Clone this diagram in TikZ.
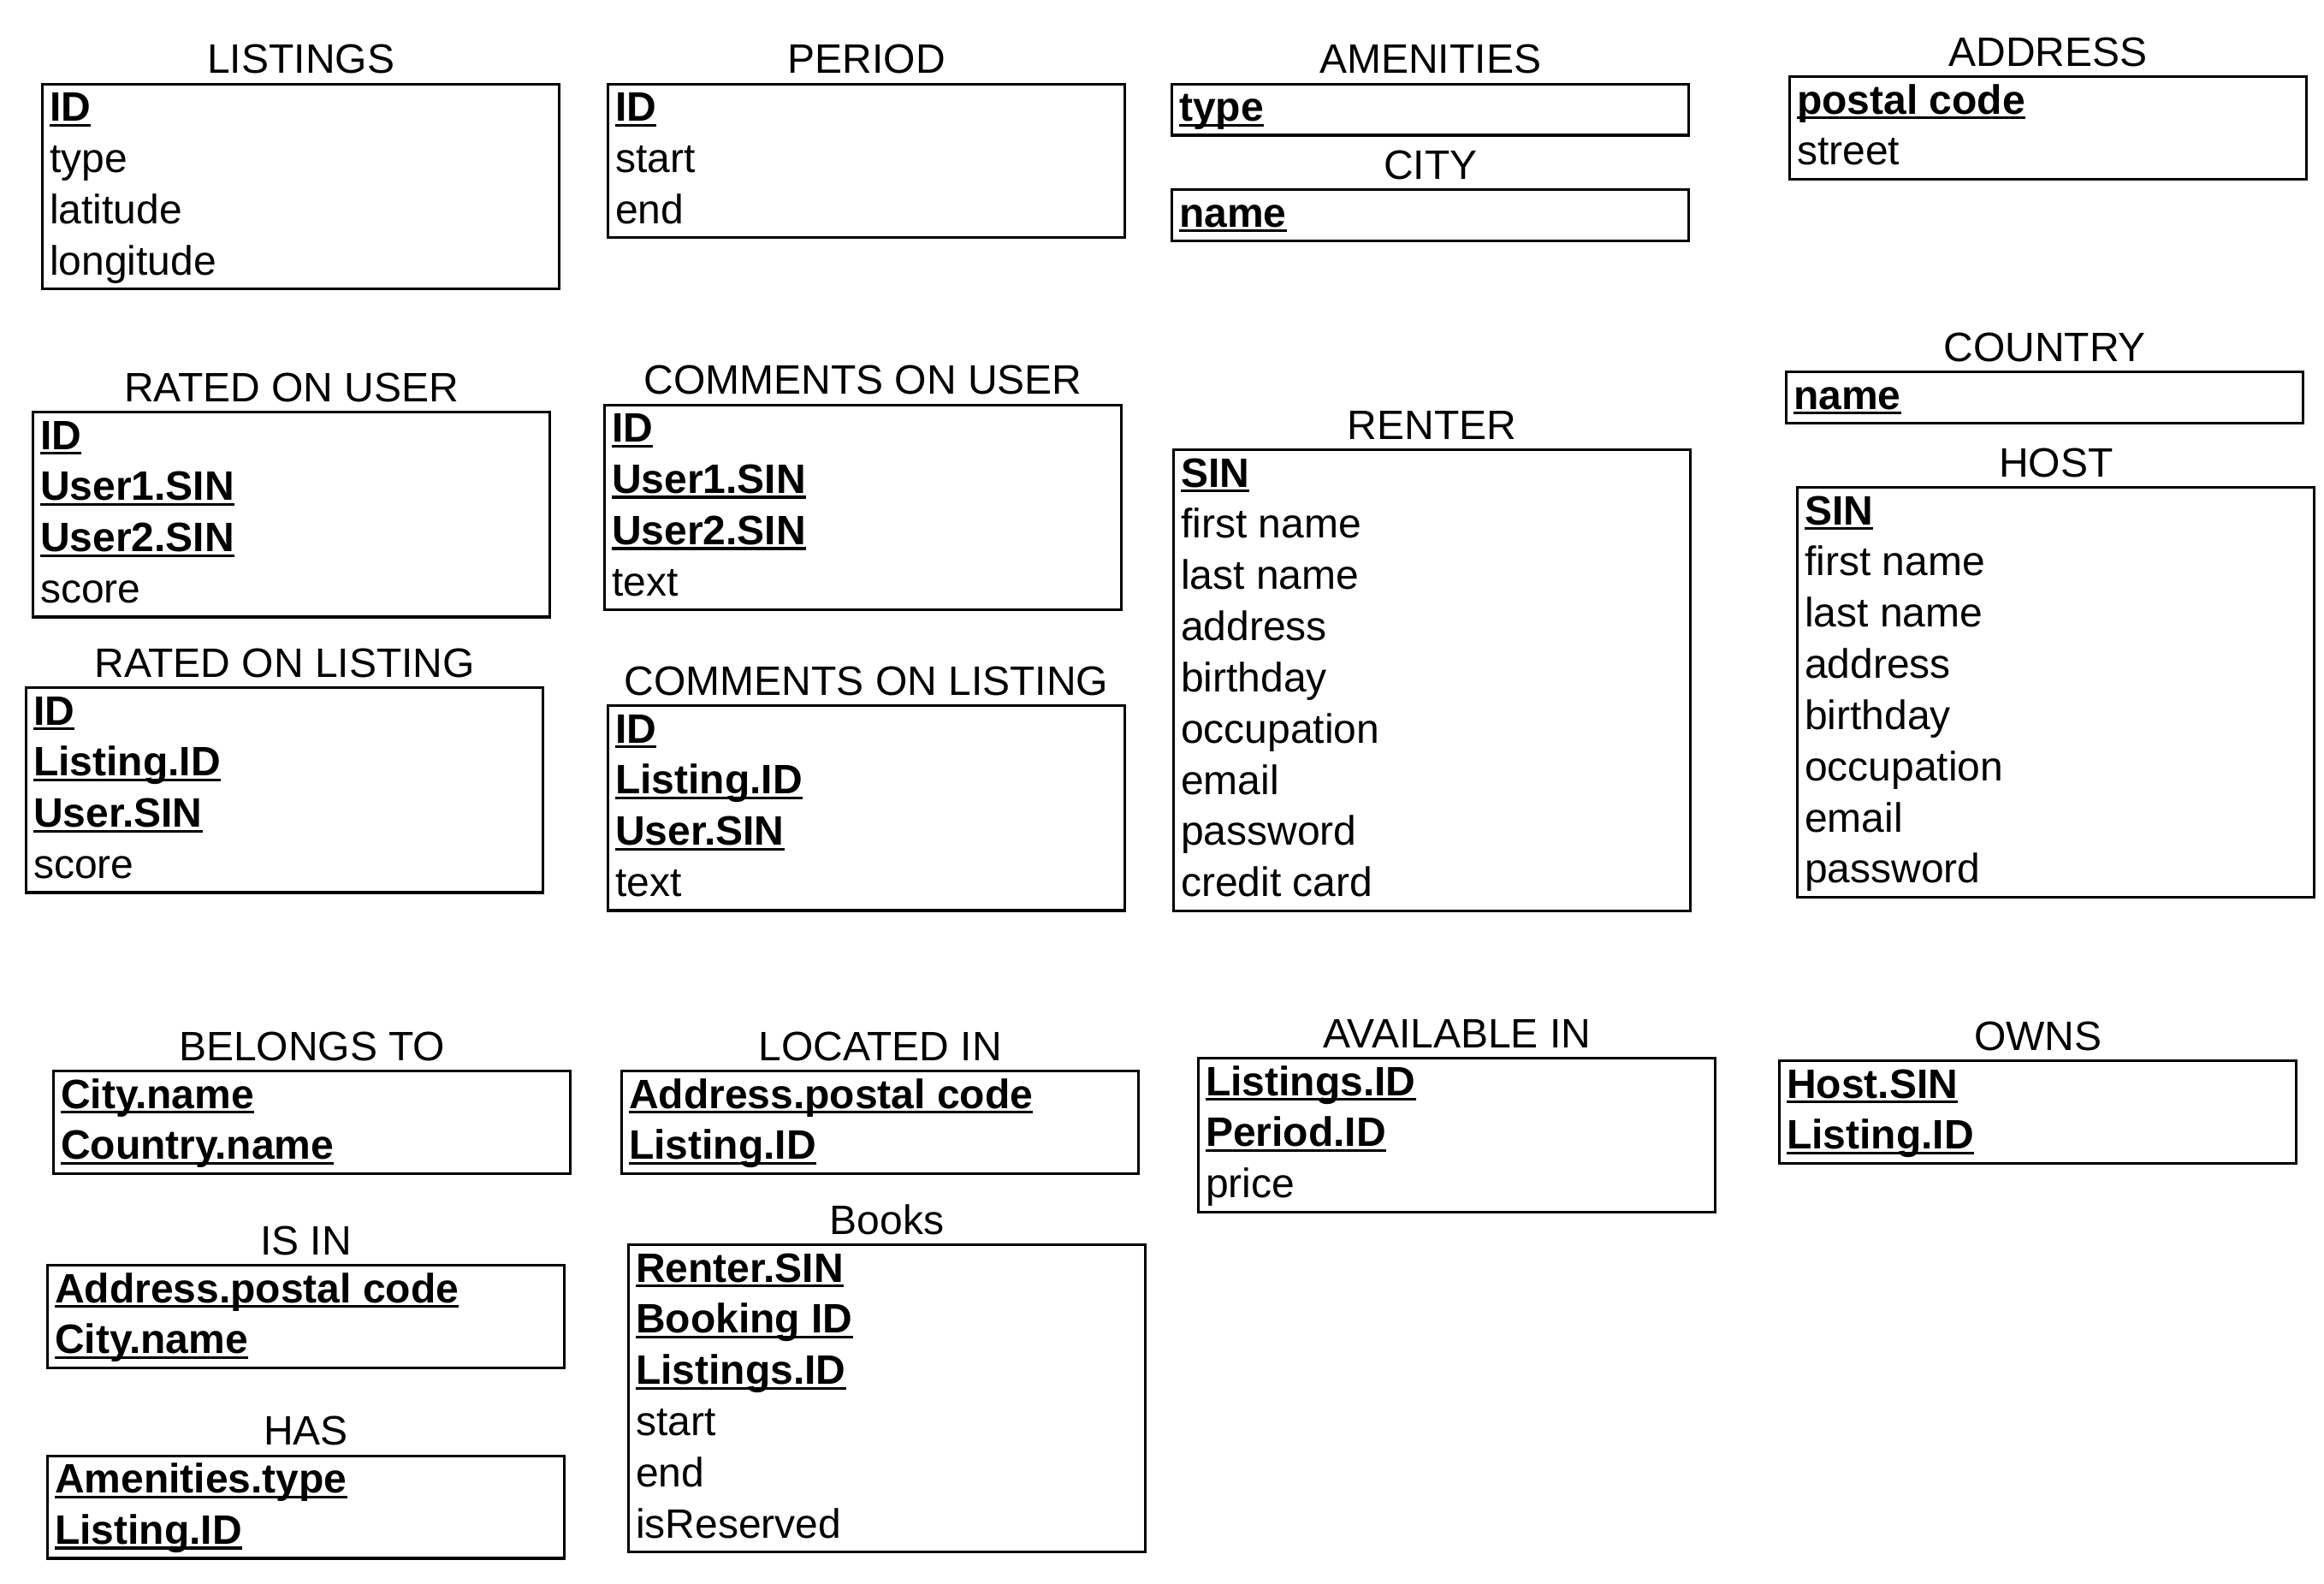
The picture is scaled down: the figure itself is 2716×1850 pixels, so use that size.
\documentclass[tikz,border=0pt]{standalone}
\usepackage{fontspec}
\setmainfont{Liberation Sans}
\usetikzlibrary{positioning}

% key attribute: bold and underlined
\newcommand{\pk}[1]{\setbox0\hbox{\bfseries #1}\rlap{\rule[-6.3pt]{\wd0}{3.3pt}}\box0}
\def\rowh{59.85}

\tikzset{
    every node/.style={font=\fontsize{48pt}{59.85pt}\selectfont},
    tbl/.style={draw, line width=3.3pt, minimum width=604pt, inner sep=0pt, anchor=north west},
    ttl/.style={inner sep=0pt},
    row/.style={inner sep=0pt, anchor=base west},
}

\begin{document}
\begin{tikzpicture}[x=1pt,y=-1pt]
        \useasboundingbox (0,0) rectangle (2716,1850);

        % top row
        \node[tbl, minimum height=4*\rowh] (listings) at (48,96.5) {};
        \node[ttl, above=10pt of listings] (listings-title) {LISTINGS};
        \foreach \a [count=\i from 0] in {{\pk{ID}},type,latitude,longitude}
            \node[row] (listings-\i) at ([shift={(10,45+\i*\rowh)}]listings.north west) {\a};

        \node[tbl, minimum height=3*\rowh] (period) at (709,96.5) {};
        \node[ttl, above=10pt of period] (period-title) {PERIOD};
        \foreach \a [count=\i from 0] in {{\pk{ID}},start,end}
            \node[row] (period-\i) at ([shift={(10,45+\i*\rowh)}]period.north west) {\a};

        \node[tbl, minimum height=\rowh] (amenities) at (1368,96.5) {};
        \node[ttl, above=10pt of amenities] (amenities-title) {AMENITIES};
        \node[row] (amenities-0) at ([shift={(10,45)}]amenities.north west) {\pk{type}};

        \node[tbl, minimum height=\rowh] (city) at (1368,220) {};
        \node[ttl, above=10pt of city] (city-title) {CITY};
        \node[row] (city-0) at ([shift={(10,45)}]city.north west) {\pk{name}};

        \node[tbl, minimum height=2*\rowh] (address) at (2090,88) {};
        \node[ttl, above=10pt of address] (address-title) {ADDRESS};
        \foreach \a [count=\i from 0] in {{\pk{postal code}},street}
            \node[row] (address-\i) at ([shift={(10,45+\i*\rowh)}]address.north west) {\a};

        % middle rows
        \node[tbl, minimum height=4*\rowh] (ratedonuser) at (37,480) {};
        \node[ttl, above=10pt of ratedonuser] (ratedonuser-title) {RATED ON USER};
        \foreach \a [count=\i from 0] in {{\pk{ID}},{\pk{User1.SIN}},{\pk{User2.SIN}},score}
            \node[row] (ratedonuser-\i) at ([shift={(10,45+\i*\rowh)}]ratedonuser.north west) {\a};

        \node[tbl, minimum height=4*\rowh] (commentsonuser) at (705,471.5) {};
        \node[ttl, above=10pt of commentsonuser] (commentsonuser-title) {COMMENTS ON USER};
        \foreach \a [count=\i from 0] in {{\pk{ID}},{\pk{User1.SIN}},{\pk{User2.SIN}},text}
            \node[row] (commentsonuser-\i) at ([shift={(10,45+\i*\rowh)}]commentsonuser.north west) {\a};

        \node[tbl, minimum height=\rowh] (country) at (2086,433) {};
        \node[ttl, above=10pt of country] (country-title) {COUNTRY};
        \node[row] (country-0) at ([shift={(10,45)}]country.north west) {\pk{name}};

        \node[tbl, minimum height=9*\rowh] (renter) at (1370,524) {};
        \node[ttl, above=10pt of renter] (renter-title) {RENTER};
        \foreach \a [count=\i from 0] in {{\pk{SIN}},first name,last name,address,birthday,occupation,email,password,credit card}
            \node[row] (renter-\i) at ([shift={(10,45+\i*\rowh)}]renter.north west) {\a};

        \node[tbl, minimum height=8*\rowh] (host) at (2099,568) {};
        \node[ttl, above=10pt of host] (host-title) {HOST};
        \foreach \a [count=\i from 0] in {{\pk{SIN}},first name,last name,address,birthday,occupation,email,password}
            \node[row] (host-\i) at ([shift={(10,45+\i*\rowh)}]host.north west) {\a};

        \node[tbl, minimum height=4*\rowh] (ratedonlisting) at (29,802) {};
        \node[ttl, above=10pt of ratedonlisting] (ratedonlisting-title) {RATED ON LISTING};
        \foreach \a [count=\i from 0] in {{\pk{ID}},{\pk{Listing.ID}},{\pk{User.SIN}},score}
            \node[row] (ratedonlisting-\i) at ([shift={(10,45+\i*\rowh)}]ratedonlisting.north west) {\a};

        \node[tbl, minimum height=4*\rowh] (commentsonlisting) at (709,823) {};
        \node[ttl, above=10pt of commentsonlisting] (commentsonlisting-title) {COMMENTS ON LISTING};
        \foreach \a [count=\i from 0] in {{\pk{ID}},{\pk{Listing.ID}},{\pk{User.SIN}},text}
            \node[row] (commentsonlisting-\i) at ([shift={(10,45+\i*\rowh)}]commentsonlisting.north west) {\a};

        % relations
        \node[tbl, minimum height=2*\rowh] (belongsto) at (61,1250) {};
        \node[ttl, above=10pt of belongsto] (belongsto-title) {BELONGS TO};
        \foreach \a [count=\i from 0] in {{\pk{City.name}},{\pk{Country.name}}}
            \node[row] (belongsto-\i) at ([shift={(10,45+\i*\rowh)}]belongsto.north west) {\a};

        \node[tbl, minimum height=2*\rowh] (locatedin) at (725,1250) {};
        \node[ttl, above=10pt of locatedin] (locatedin-title) {LOCATED IN};
        \foreach \a [count=\i from 0] in {{\pk{Address.postal code}},{\pk{Listing.ID}}}
            \node[row] (locatedin-\i) at ([shift={(10,45+\i*\rowh)}]locatedin.north west) {\a};

        \node[tbl, minimum height=3*\rowh] (availablein) at (1399,1235) {};
        \node[ttl, above=10pt of availablein] (availablein-title) {AVAILABLE IN};
        \foreach \a [count=\i from 0] in {{\pk{Listings.ID}},{\pk{Period.ID}},price}
            \node[row] (availablein-\i) at ([shift={(10,45+\i*\rowh)}]availablein.north west) {\a};

        \node[tbl, minimum height=2*\rowh] (owns) at (2078,1238) {};
        \node[ttl, above=10pt of owns] (owns-title) {OWNS};
        \foreach \a [count=\i from 0] in {{\pk{Host.SIN}},{\pk{Listing.ID}}}
            \node[row] (owns-\i) at ([shift={(10,45+\i*\rowh)}]owns.north west) {\a};

        \node[tbl, minimum height=2*\rowh] (isin) at (54,1477) {};
        \node[ttl, above=10pt of isin] (isin-title) {IS IN};
        \foreach \a [count=\i from 0] in {{\pk{Address.postal code}},{\pk{City.name}}}
            \node[row] (isin-\i) at ([shift={(10,45+\i*\rowh)}]isin.north west) {\a};

        \node[tbl, minimum height=6*\rowh] (books) at (733,1453) {};
        \node[ttl, above=10pt of books] (books-title) {Books};
        \foreach \a [count=\i from 0] in {{\pk{Renter.SIN}},{\pk{Booking ID}},{\pk{Listings.ID}},start,end,isReserved}
            \node[row] (books-\i) at ([shift={(10,45+\i*\rowh)}]books.north west) {\a};

        \node[tbl, minimum height=2*\rowh] (has) at (54,1699.5) {};
        \node[ttl, above=10pt of has] (has-title) {HAS};
        \foreach \a [count=\i from 0] in {{\pk{Amenities.type}},{\pk{Listing.ID}}}
            \node[row] (has-\i) at ([shift={(10,45+\i*\rowh)}]has.north west) {\a};
\end{tikzpicture}
\end{document}
